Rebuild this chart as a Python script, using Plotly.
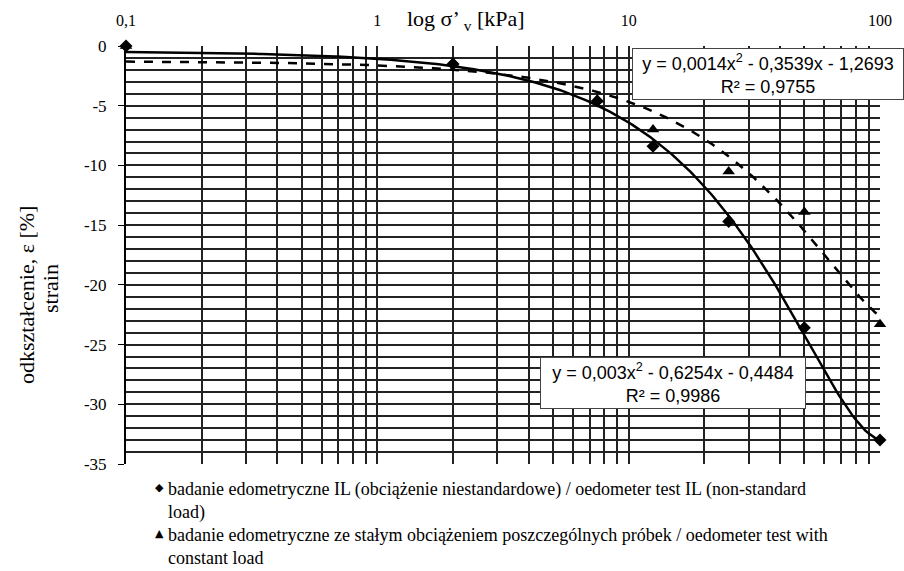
import numpy as np
import plotly.graph_objects as go

# --- data ---
il_x = [0.1, 2, 7.5, 12.5, 25, 50, 100]
il_y = [0.0, -1.5, -4.6, -8.4, -14.7, -23.6, -33.0]
cl_x = [0.1, 2, 7.5, 12.5, 25, 50, 100]
cl_y = [0.0, -1.4, -4.5, -7.0, -10.5, -13.9, -23.3]

# polynomial trendline coefficients shown on the chart (a2, a1, a0)
il_coef = [0.003, -0.6254, -0.4484]
cl_coef = [0.0014, -0.3539, -1.2693]
il_eq = "y = 0,003x<sup>2</sup> - 0,6254x - 0,4484<br>R² = 0,9986"
cl_eq = "y = 0,0014x<sup>2</sup> - 0,3539x - 1,2693<br>R² = 0,9755"

decades = [0.1, 1, 10, 100]
decade_labels = ["0,1", "1", "10", "100"]
y_ticks = [0, -5, -10, -15, -20, -25, -30, -35]

legend_il = "badanie edometryczne IL (obciążenie niestandardowe) / oedometer test IL (non-standard<br>load)"
legend_cl = "badanie edometryczne ze stałym obciążeniem poszczególnych próbek / oedometer test with<br>constant load"

SERIF = "Liberation Serif"
SANS = "Liberation Sans"

# gridline positions 1..9 in each decade
xv, xt = [], []
for d, lab in zip(decades[:-1], decade_labels[:-1]):
    for k in range(1, 10):
        xv.append(d * k)
        xt.append(lab if k == 1 else "")
xv.append(decades[-1]); xt.append(decade_labels[-1])

xs = np.logspace(np.log10(decades[0]), np.log10(decades[-1]), 300)
il_fit = np.polyval(il_coef, xs)
cl_fit = np.polyval(cl_coef, xs)

fig = go.Figure()
fig.add_trace(go.Scatter(x=xs, y=cl_fit, mode="lines",
                         line=dict(color="black", width=2.5, dash="dash"), showlegend=False))
fig.add_trace(go.Scatter(x=xs, y=il_fit, mode="lines",
                         line=dict(color="black", width=2.5), showlegend=False))
fig.add_trace(go.Scatter(x=il_x, y=il_y, mode="markers", cliponaxis=False,
                         marker=dict(symbol="diamond", size=10, color="black"), showlegend=False))
fig.add_trace(go.Scatter(x=cl_x, y=cl_y, mode="markers", cliponaxis=False,
                         marker=dict(symbol="triangle-up", size=11, color="black"), showlegend=False))

fig.update_layout(
    width=904, height=571,
    margin=dict(l=126, r=24, t=46, b=107),
    paper_bgcolor="white", plot_bgcolor="white",
    font=dict(family=SERIF, color="black"),
    xaxis=dict(type="log", side="top", range=[-1, 2],
               tickmode="array", tickvals=xv, ticktext=xt,
               showgrid=True, gridcolor="#222", gridwidth=1.7,
               ticks="", zeroline=False, showline=False, ticklabelstandoff=16,
               tickfont=dict(family=SERIF, size=16)),
    yaxis=dict(range=[-35, 0], tickmode="array", tickvals=y_ticks,
               ticktext=[str(v) for v in y_ticks],
               showgrid=True, gridcolor="#222", gridwidth=1.7,
               ticks="outside", ticklen=6, tickcolor="black", ticklabelstandoff=8,
               minor=dict(dtick=1, tick0=0, showgrid=True, gridcolor="#222", gridwidth=1.7, ticks=""),
               showline=True, linecolor="black", linewidth=2, zeroline=False,
               tickfont=dict(family=SERIF, size=17)),
)

def px_x(p):
    return (p - 126) / 754

def px_y(p):
    return (464 - p) / 418

fig.add_annotation(xref="paper", yref="paper", x=px_x(466), y=px_y(20),
                   xanchor="center", yanchor="middle",
                   text="log σ’ <sub>v</sub> [kPa]", showarrow=False,
                   font=dict(family=SERIF, size=22))
fig.add_annotation(xref="paper", yref="paper", x=px_x(26), y=px_y(295),
                   xanchor="center", yanchor="middle",
                   text="odkształcenie, ε [%]", showarrow=False, textangle=-90,
                   font=dict(family=SERIF, size=22))
fig.add_annotation(xref="paper", yref="paper", x=px_x(50), y=px_y(289),
                   xanchor="center", yanchor="middle",
                   text="strain", showarrow=False, textangle=-90,
                   font=dict(family=SERIF, size=22))

fig.add_annotation(xref="paper", yref="paper", x=px_x(632), y=px_y(48),
                   xanchor="left", yanchor="top", text=cl_eq, showarrow=False, align="center",
                   font=dict(family=SANS, size=18), bgcolor="white",
                   bordercolor="#444", borderwidth=1, borderpad=2, width=266)
fig.add_annotation(xref="paper", yref="paper", x=px_x(540), y=px_y(357),
                   xanchor="left", yanchor="top", text=il_eq, showarrow=False, align="center",
                   font=dict(family=SANS, size=18), bgcolor="white",
                   bordercolor="#444", borderwidth=1, borderpad=2, width=260)

# legend (marker glyph + hanging-indent text)
for sym, txt, top in [("◆", legend_il, 477), ("▲", legend_cl, 523)]:
    fig.add_annotation(xref="paper", yref="paper", x=px_x(153), y=px_y(top + 2),
                       xanchor="left", yanchor="top", text=sym, showarrow=False,
                       font=dict(family="DejaVu Sans", size=11))
    fig.add_annotation(xref="paper", yref="paper", x=px_x(166), y=px_y(top),
                       xanchor="left", yanchor="top", text=txt, showarrow=False, align="left",
                       font=dict(family=SERIF, size=18))

fig.write_html("out.html")
